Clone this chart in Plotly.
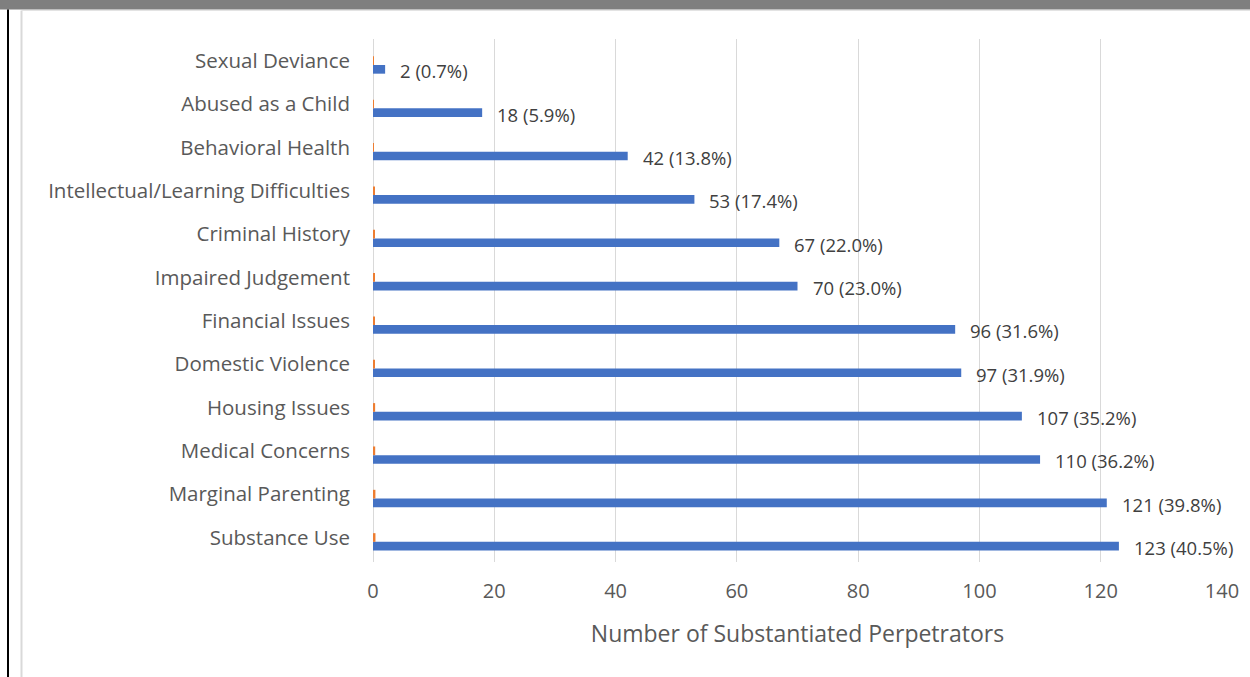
import plotly.graph_objects as go

categories = ["Substance Use", "Marginal Parenting", "Medical Concerns", "Housing Issues",
              "Domestic Violence", "Financial Issues", "Impaired Judgement", "Criminal History",
              "Intellectual/Learning Difficulties", "Behavioral Health", "Abused as a Child",
              "Sexual Deviance"]
counts = [123, 121, 110, 107, 97, 96, 70, 67, 53, 42, 18, 2]
percents = [40.5, 39.8, 36.2, 35.2, 31.9, 31.6, 23.0, 22.0, 17.4, 13.8, 5.9, 0.7]
share = [p / 100 for p in percents]
empty = [0] * len(categories)
x_ticks = [0, 20, 40, 60, 80, 100, 120, 140]

FONT = "Open Sans"
fig = go.Figure()
fig.add_trace(go.Bar(y=categories, x=counts, orientation="h", marker_color="#4472C4",
                     marker_line_width=0, hoverinfo="skip"))
fig.add_trace(go.Bar(y=categories, x=share, orientation="h", marker_color="#ED7D31",
                     marker_line_width=0, hoverinfo="skip"))
fig.add_trace(go.Bar(y=categories, x=empty, orientation="h", marker_color="#A5A5A5",
                     marker_line_width=0, hoverinfo="skip"))

for c, v, p in zip(categories, counts, percents):
    fig.add_annotation(x=v, y=c, xref="x", yref="y", text=f"{v} ({p:.1f}%)",
                       showarrow=False, xanchor="left", yanchor="middle",
                       xshift=13, yshift=-10,
                       font=dict(family=FONT, size=18.5, color="#404040"))

fig.update_layout(
    width=1250, height=677,
    margin=dict(l=373, r=28, t=39, b=115),
    paper_bgcolor="white", plot_bgcolor="white",
    barmode="group", bargap=0.40, bargroupgap=0,
    showlegend=False,
    xaxis=dict(range=[0, 140], tickvals=x_ticks, showgrid=True, gridcolor="#D9D9D9",
               gridwidth=1, zeroline=True, zerolinecolor="#D9D9D9", zerolinewidth=1,
               showline=False, ticks="", ticklabelstandoff=15,
               tickfont=dict(family=FONT, size=20, color="#595959"),
               title=dict(text="Number of Substantiated Perpetrators", standoff=22,
                          font=dict(family=FONT, size=23, color="#595959"))),
    yaxis=dict(showgrid=False, zeroline=False, showline=False, ticks="",
               ticklabelstandoff=22,
               tickfont=dict(family=FONT, size=20.5, color="#595959")),
)

pw, ph = 1250 - 373 - 28, 677 - 39 - 115
def px_x(p):
    return (p - 373) / pw
def px_y(p):
    return (677 - 115 - p) / ph

fig.update_layout(shapes=[
    dict(type="rect", xref="paper", yref="paper", x0=px_x(0), x1=px_x(1250),
         y0=px_y(9.5), y1=px_y(0), fillcolor="#7F7F7F", line_width=0, layer="above"),
    dict(type="rect", xref="paper", yref="paper", x0=px_x(7), x1=px_x(9),
         y0=px_y(677), y1=px_y(9.5), fillcolor="black", line_width=0, layer="above"),
    dict(type="line", xref="paper", yref="paper", x0=px_x(21.5), x1=px_x(21.5),
         y0=px_y(677), y1=px_y(10.5), line=dict(color="#D9D9D9", width=2), layer="above"),
    dict(type="line", xref="paper", yref="paper", x0=px_x(21.5), x1=px_x(1250),
         y0=px_y(10.5), y1=px_y(10.5), line=dict(color="#E3E3E3", width=1), layer="above"),
])

fig.write_html("out.html", config={"displayModeBar": False},
               post_script="document.body.style.margin='0';")
